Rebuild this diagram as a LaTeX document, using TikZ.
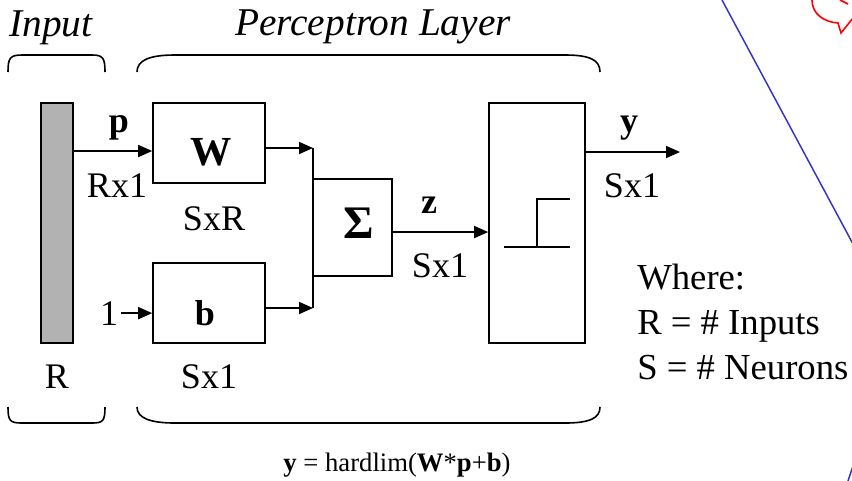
\documentclass[tikz,border=0pt]{standalone}
\usepackage{fontspec}
\setmainfont{Liberation Serif}
\usetikzlibrary{arrows.meta,calc}
\definecolor{slideblue}{RGB}{51,51,204}

\begin{document}
\begin{tikzpicture}[x=0.75pt,y=-0.75pt,>={Triangle[length=10.5pt,width=9pt]},
 box/.style={draw,line width=1.2pt,inner sep=0pt},
 lbl/.style={font=\fontsize{27}{30}\selectfont,anchor=base,inner sep=0pt},
 head/.style={lbl,font=\fontsize{29.5}{32}\selectfont\itshape},
 line/.style={->,line width=1.2pt},
 brace/.style={line width=1.2pt}]
\useasboundingbox (0,0) rectangle (852,480);
% blocks
\node[box,fill=black!30,minimum width=24pt,minimum height=180pt] (bar) at (57,223) {};
\node[box,minimum width=84pt,minimum height=60pt] (wbox) at (209,143) {};
\node[box,minimum width=84pt,minimum height=60pt] (bbox) at (209,303) {};
\node[box,minimum width=59pt,minimum height=73pt] (sum) at (352.5,227.5) {};
\node[box,minimum width=72pt,minimum height=180pt] (hl) at (537,223) {};
\draw[line width=1.2pt] (504,247) -- (570,247) (537,247) -- (537,199) -- (570,199);
% labels
\node[head] (inp) at (51,36) {Input};
\node[head] (layer) at (373,35) {Perceptron Layer};
\node[lbl,font=\fontsize{31}{34}\selectfont] (wl) at (211,165) {\textbf{W}};
\node[lbl] (bl) at (205,325) {\textbf{b}};
\node[lbl,font=\fontsize{35}{38}\selectfont] (sig) at (359,238) {\textbf{Σ}};
\node[lbl] (pl) at (119,132) {\textbf{p}};
\node[lbl] (rx) at (117,197) {Rx1};
\node[lbl] (sxr) at (214,230) {SxR};
\node[lbl] (zl) at (429,213) {\textbf{z}};
\node[lbl] (sz) at (440,277) {Sx1};
\node[lbl] (yl) at (629,132) {\textbf{y}};
\node[lbl] (sy) at (632,197) {Sx1};
\node[lbl] (one) at (109,325) {1};
\node[lbl] (rl) at (57,388) {R};
\node[lbl] (sb) at (209,388) {Sx1};
\node[lbl,font=\fontsize{27.5}{33.75}\selectfont,anchor=base west,align=left] (where) at (637,379)
 {Where:\\R = \# Inputs\\S = \# Neurons};
\node[lbl,font=\fontsize{20}{24}\selectfont] (eq) at (397,471)
 {\textbf{y} = hardlim(\textbf{W}*\textbf{p}+\textbf{b})};
% connectors
\coordinate (jtop) at (313,148);
\coordinate (jbot) at (313,308);
\coordinate (yend) at (680,152);
\draw[line] ([yshift=-6pt]wbox.west -| bar.east) -- ([yshift=-6pt]wbox.west);
\draw[line] ([xshift=2pt]one.east) -- (bbox.west |- one.east);
\draw[line] (wbox.east |- jtop) -- (jtop);
\draw[line] (bbox.east |- jbot) -- (jbot);
\draw[line width=1.2pt] (jtop) -- (jbot);
\draw[line] ([yshift=-3.4pt]sum.east) -- ([yshift=-3.4pt]sum.east -| hl.west);
\draw[line] (hl.east |- yend) -- (yend);
% braces
\draw[brace] (8,72) .. controls (8,58) and (10,55) .. (22,55) -- (92,55) .. controls (103,55) and (105,58) .. (105,72);
\draw[brace] (137,72) .. controls (137,60) and (150,55) .. (175,55) -- (565,55) .. controls (590,55) and (600,60) .. (600,72);
\draw[brace] (8,407) .. controls (8,421) and (10,423) .. (22,423) -- (92,423) .. controls (103,423) and (105,421) .. (105,407);
\draw[brace] (137,407) .. controls (137,418) and (150,423) .. (175,423) -- (565,423) .. controls (590,423) and (600,418) .. (600,407);
% slide remnants
\draw[slideblue,line width=1.1pt] (722,0) -- (853,244);
\draw[slideblue,line width=1.1pt] (848,481) -- (853,466);
\draw[red,line width=1.2pt] (812,0) .. controls (812,14) and (824,22) .. (838,23) -- (841,33) -- (853,18);
\draw[red,line width=1.2pt] (840,0) -- (848,4);
\end{tikzpicture}
\end{document}
